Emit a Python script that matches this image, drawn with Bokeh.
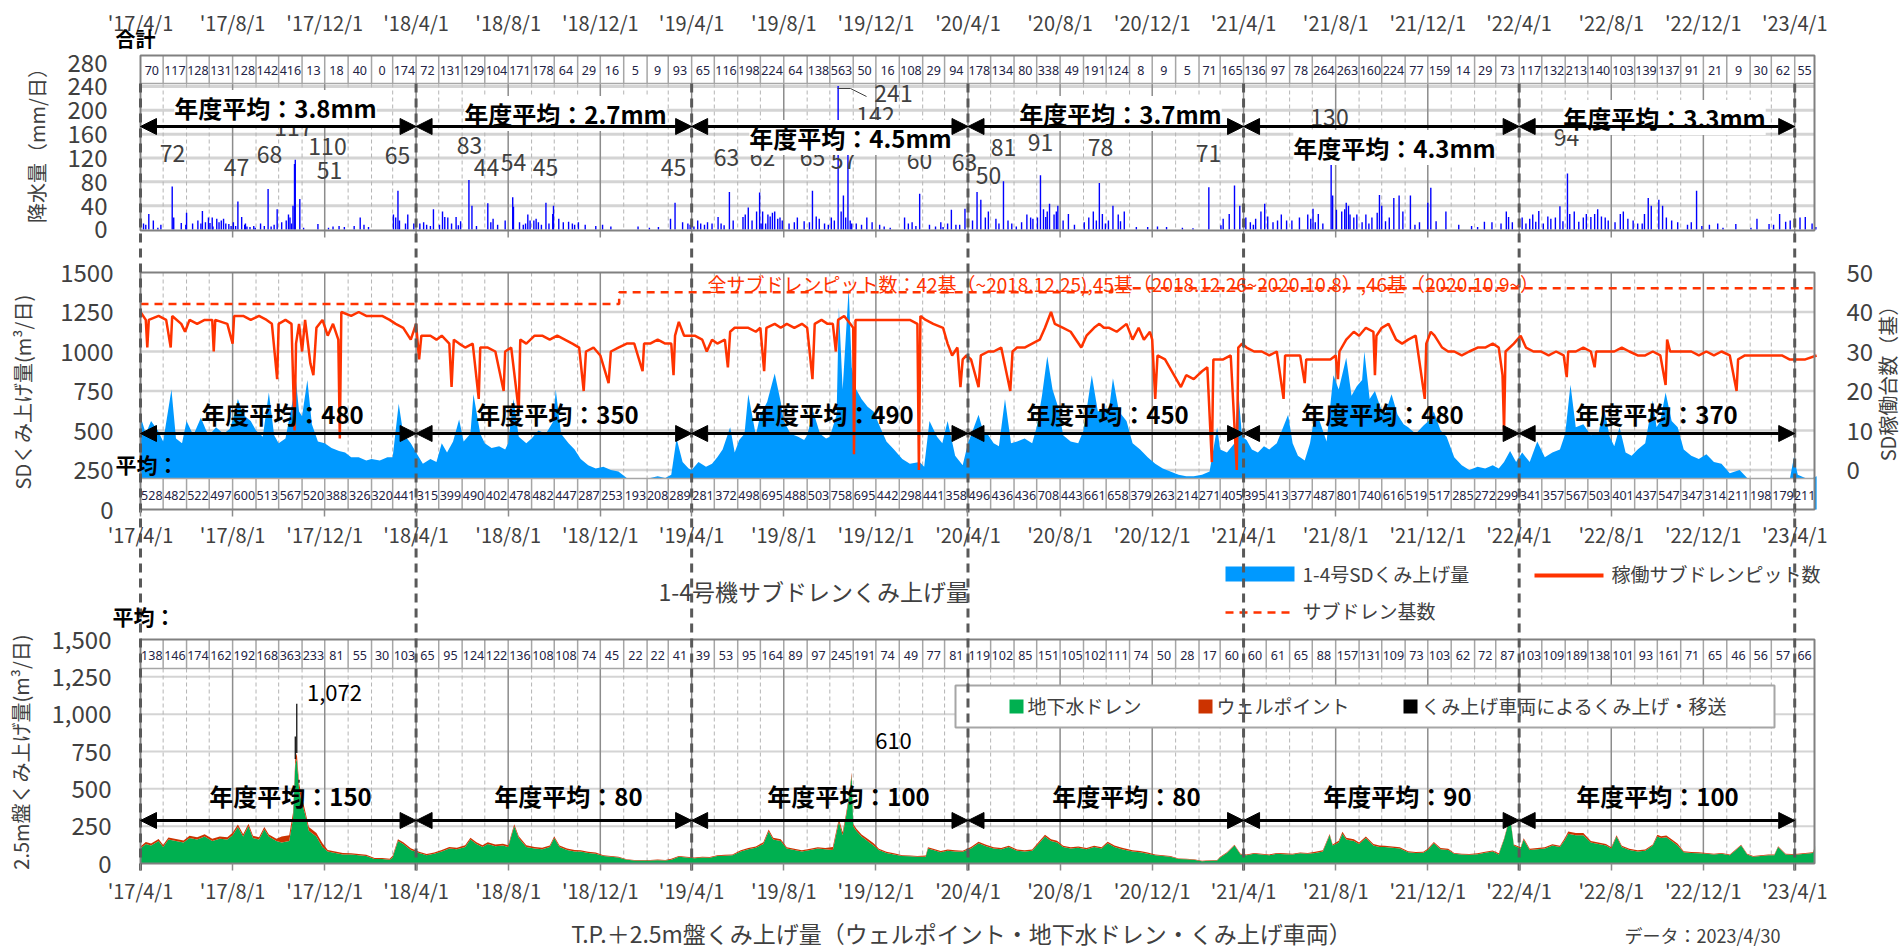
import math
import pandas as pd
from bokeh.plotting import figure
from bokeh.models import (Range1d, LinearAxis, FixedTicker, Arrow, NormalHead,
                          Label, NumeralTickFormatter)
from bokeh.embed import file_html
from bokeh.resources import INLINE
from bokeh.core.properties import value

# ======================= DATA =======================
x_tick_labels = ["'17/4/1", "'17/8/1", "'17/12/1", "'18/4/1", "'18/8/1", "'18/12/1",
                 "'19/4/1", "'19/8/1", "'19/12/1", "'20/4/1", "'20/8/1", "'20/12/1",
                 "'21/4/1", "'21/8/1", "'21/12/1", "'22/4/1", "'22/8/1", "'22/12/1", "'23/4/1"]

# monthly table rows (Apr 2017 ... Apr 2023)
rain_monthly_total = [70, 117, 128, 131, 128, 142, 416, 13, 18, 40, 0, 174,
                      72, 131, 129, 104, 171, 178, 64, 29, 16, 5, 9, 93,
                      65, 116, 198, 224, 64, 138, 563, 50, 16, 108, 29, 94,
                      178, 134, 80, 338, 49, 191, 124, 8, 9, 5, 71, 165,
                      136, 97, 78, 264, 263, 160, 224, 77, 159, 14, 29, 73,
                      117, 132, 213, 140, 103, 139, 137, 91, 21, 9, 30, 62,
                      55]
sd_monthly_avg = [528, 482, 522, 497, 600, 513, 567, 520, 388, 326, 320, 441,
                  315, 399, 490, 402, 478, 482, 447, 287, 253, 193, 208, 289,
                  281, 372, 498, 695, 488, 503, 758, 695, 442, 298, 441, 358,
                  496, 436, 436, 708, 443, 661, 658, 379, 263, 214, 271, 405,
                  395, 413, 377, 487, 801, 740, 616, 519, 517, 285, 272, 299,
                  341, 357, 567, 503, 401, 437, 547, 347, 314, 211, 198, 179,
                  211]
tp_monthly_avg = [138, 146, 174, 162, 192, 168, 363, 233, 81, 55, 30, 103,
                  65, 95, 124, 122, 136, 108, 108, 74, 45, 22, 22, 41,
                  39, 53, 95, 164, 89, 97, 245, 191, 74, 49, 77, 81,
                  119, 102, 85, 151, 105, 102, 111, 74, 50, 28, 17, 60,
                  60, 61, 65, 88, 157, 131, 109, 73, 103, 62, 72, 87,
                  103, 109, 189, 138, 101, 93, 161, 71, 65, 46, 56, 57,
                  66]

fy_rain_avg = ["3.8mm", "2.7mm", "4.5mm", "3.7mm", "4.3mm", "3.3mm"]
fy_sd_avg = ["480", "350", "490", "450", "480", "370"]
fy_tp_avg = ["150", "80", "100", "80", "90", "100"]

# daily rainfall (mm/day) on rainy days
rain_dates = [
 "2017-04-05","2017-04-08","2017-04-12","2017-04-18","2017-04-24","2017-04-28",
 "2017-05-13","2017-05-15","2017-05-25","2017-05-31",
 "2017-06-01","2017-06-09","2017-06-16","2017-06-20","2017-06-22","2017-06-26","2017-06-30",
 "2017-07-02","2017-07-05","2017-07-06","2017-07-11","2017-07-14","2017-07-17","2017-07-20","2017-07-23","2017-07-27","2017-07-30",
 "2017-08-02","2017-08-05","2017-08-08","2017-08-13","2017-08-17","2017-08-18","2017-08-20","2017-08-24","2017-08-29","2017-08-31",
 "2017-09-07","2017-09-12","2017-09-17","2017-09-21","2017-09-25","2017-09-29",
 "2017-10-05","2017-10-11","2017-10-14","2017-10-16","2017-10-18","2017-10-20","2017-10-22","2017-10-23","2017-10-29",
 "2017-11-03","2017-11-22",
 "2017-12-06","2017-12-12","2017-12-20","2017-12-27",
 "2018-01-09","2018-01-17","2018-01-22","2018-01-28",
 "2018-03-02","2018-03-05","2018-03-08","2018-03-10","2018-03-18","2018-03-21","2018-03-29",
 "2018-04-06","2018-04-11","2018-04-15","2018-04-20","2018-04-24",
 "2018-05-02","2018-05-06","2018-05-09","2018-05-13","2018-05-18","2018-05-24","2018-05-27","2018-05-30",
 "2018-06-10","2018-06-14","2018-06-20",
 "2018-07-05","2018-07-09","2018-07-12","2018-07-18","2018-07-28",
 "2018-08-07","2018-08-08","2018-08-16","2018-08-21","2018-08-24","2018-08-27","2018-08-30",
 "2018-09-04","2018-09-07","2018-09-10","2018-09-14","2018-09-20","2018-09-24","2018-09-29","2018-09-30",
 "2018-10-07","2018-10-13","2018-10-20","2018-10-25","2018-10-28",
 "2018-11-02","2018-11-11","2018-11-25",
 "2018-12-04","2018-12-15",
 "2019-01-20",
 "2019-02-04","2019-02-16",
 "2019-03-04","2019-03-10","2019-03-20","2019-03-27","2019-03-30",
 "2019-04-04","2019-04-09","2019-04-13","2019-04-18","2019-04-22","2019-04-28",
 "2019-05-06","2019-05-10","2019-05-14","2019-05-21","2019-05-26",
 "2019-06-08","2019-06-11","2019-06-15","2019-06-20","2019-06-26","2019-06-30",
 "2019-07-02","2019-07-04","2019-07-08","2019-07-11","2019-07-14","2019-07-17","2019-07-20","2019-07-24","2019-07-27","2019-07-30",
 "2019-08-08","2019-08-15","2019-08-19","2019-08-28",
 "2019-09-04","2019-09-08","2019-09-13","2019-09-17","2019-09-24","2019-09-29",
 "2019-10-03","2019-10-07","2019-10-12","2019-10-16","2019-10-19","2019-10-22","2019-10-25","2019-10-28","2019-10-30",
 "2019-11-05","2019-11-12","2019-11-19","2019-11-26",
 "2019-12-06","2019-12-12","2019-12-20",
 "2020-01-08","2020-01-13","2020-01-18","2020-01-23","2020-01-28",
 "2020-02-10","2020-02-18","2020-02-25","2020-02-28",
 "2020-03-05","2020-03-10","2020-03-16","2020-03-21","2020-03-28",
 "2020-04-07","2020-04-13","2020-04-18","2020-04-24","2020-04-28",
 "2020-05-08","2020-05-12","2020-05-18","2020-05-24","2020-05-29",
 "2020-06-04","2020-06-11","2020-06-18","2020-06-23","2020-06-26",
 "2020-07-02","2020-07-06","2020-07-10","2020-07-13","2020-07-15","2020-07-18","2020-07-24","2020-07-27","2020-07-29",
 "2020-08-05","2020-08-12","2020-08-20",
 "2020-09-02","2020-09-08","2020-09-14","2020-09-18","2020-09-22","2020-09-26","2020-09-30",
 "2020-10-04","2020-10-10","2020-10-17","2020-10-20","2020-10-25",
 "2020-11-10","2020-11-25",
 "2020-12-08","2020-12-20",
 "2021-01-10","2021-01-24",
 "2021-02-14",
 "2021-03-02","2021-03-05","2021-03-13","2021-03-20","2021-03-27",
 "2021-04-04","2021-04-10","2021-04-14","2021-04-17","2021-04-24","2021-04-29",
 "2021-05-03","2021-05-10","2021-05-16","2021-05-21","2021-05-28",
 "2021-06-04","2021-06-14","2021-06-25","2021-06-29",
 "2021-07-02","2021-07-05","2021-07-09","2021-07-15","2021-07-26","2021-07-28",
 "2021-08-02","2021-08-09","2021-08-13","2021-08-15","2021-08-18","2021-08-20","2021-08-25","2021-08-29",
 "2021-09-05","2021-09-10","2021-09-14","2021-09-18","2021-09-25","2021-09-28",
 "2021-10-01","2021-10-06","2021-10-11","2021-10-17","2021-10-24","2021-10-29",
 "2021-11-08","2021-11-14","2021-11-20",
 "2021-12-01","2021-12-05","2021-12-12","2021-12-25",
 "2022-01-11","2022-01-28",
 "2022-02-05","2022-02-14","2022-02-24",
 "2022-03-08","2022-03-15","2022-03-18","2022-03-23",
 "2022-04-05","2022-04-10","2022-04-15","2022-04-19","2022-04-23","2022-04-27",
 "2022-05-03","2022-05-09","2022-05-13","2022-05-19","2022-05-25","2022-05-29",
 "2022-06-04","2022-06-07","2022-06-13","2022-06-19","2022-06-25","2022-06-29",
 "2022-07-05","2022-07-10","2022-07-14","2022-07-19","2022-07-24","2022-07-28",
 "2022-08-06","2022-08-13","2022-08-17","2022-08-23","2022-08-30",
 "2022-09-05","2022-09-11","2022-09-14","2022-09-19","2022-09-23",
 "2022-10-03","2022-10-08","2022-10-13","2022-10-20","2022-10-28",
 "2022-11-10","2022-11-15","2022-11-22","2022-11-29",
 "2022-12-09","2022-12-20","2022-12-27",
 "2023-01-13",
 "2023-02-02","2023-02-10","2023-02-26",
 "2023-03-04","2023-03-12","2023-03-20","2023-03-26",
 "2023-04-08","2023-04-15","2023-04-24","2023-04-29",
]
rain_mm = [
 10, 8, 26, 15, 3, 8,
 72, 20, 11, 8,
 28, 10, 15, 10, 31, 12, 20,
 11, 20, 5, 18, 12, 15, 18, 10, 9, 6,
 12, 6, 47, 21, 8, 10, 5, 4, 6, 3,
 10, 6, 68, 5, 8, 34,
 12, 15, 25, 20, 10, 40, 110, 117, 51,
 3, 9,
 3, 5, 6, 4,
 6, 20, 8, 4,
 25, 20, 65, 15, 10, 25, 10,
 10, 12, 8, 6, 34,
 8, 30, 21, 20, 10, 21, 7, 14,
 83, 40, 6,
 44, 12, 18, 8, 15,
 54, 38, 12, 8, 10, 25, 15,
 15, 18, 12, 8, 45, 10, 26, 40,
 18, 12, 13, 10, 8,
 12, 8, 6,
 8, 5,
 5,
 3, 4,
 18, 45, 12, 10, 8,
 5, 15, 10, 8, 12, 10,
 21, 10, 7, 63, 15,
 21, 25, 37, 15, 30, 62,
 10, 30, 10, 25, 22, 28, 30, 18, 20, 15,
 10, 12, 20, 14,
 12, 65, 22, 18, 10, 8,
 20, 15, 241, 30, 57, 20, 142, 15, 10,
 10, 8, 20, 12,
 8, 5, 3,
 20, 10, 12, 6, 60,
 8, 5, 12, 4,
 10, 33, 8, 8, 35,
 15, 63, 50, 20, 30,
 18, 10, 81, 15, 10,
 5, 12, 25, 20, 18,
 20, 91, 34, 21, 30, 43, 25, 30, 40,
 15, 26, 8,
 12, 20, 30, 15, 78, 26, 10,
 15, 40, 25, 14, 30,
 4, 4,
 5, 4,
 3, 2,
 71,
 7, 18, 26, 74, 40,
 20, 12, 8, 18, 30, 43,
 22, 12, 15, 25, 15,
 15, 20, 25, 18,
 35, 12, 26, 10, 130, 57,
 33, 30, 34, 45, 40, 25, 20, 25,
 12, 25, 10, 20, 28, 58,
 40, 14, 20, 53, 57, 30,
 57, 8, 12,
 45, 70, 14, 30,
 8, 6,
 4, 13, 12,
 10, 30, 21, 12,
 20, 10, 18, 25, 13, 31,
 10, 22, 18, 20, 39, 14,
 94, 26, 30, 13, 20, 26,
 21, 26, 34, 22, 20, 15,
 12, 26, 30, 18, 15,
 10, 10, 26, 53, 40,
 50, 40, 20, 15, 12,
 8, 12, 65, 6,
 8, 10, 3,
 9,
 3, 18, 9,
 8, 26, 13, 15,
 20, 21, 10, 4,
]
# daily-maximum annotations of the rainfall panel
rain_peak_labels = ["72", "47", "68", "117", "110", "51", "65", "83", "44", "54", "45", "45",
                    "63", "62", "65", "57", "241", "142", "60", "63", "50", "81", "91", "78",
                    "71", "130", "94"]

# 1-4号 SD daily pumping (m3/day)
sd_dates = [
 "2017-04-01","2017-04-08","2017-04-15","2017-04-24","2017-05-01","2017-05-12","2017-05-18","2017-05-26",
 "2017-06-01","2017-06-10","2017-06-20","2017-06-27","2017-07-01","2017-07-10","2017-07-20","2017-07-28",
 "2017-08-01","2017-08-08","2017-08-15","2017-08-25","2017-09-01","2017-09-10","2017-09-18","2017-09-25",
 "2017-10-01","2017-10-10","2017-10-20","2017-10-23","2017-10-28","2017-11-01","2017-11-08","2017-11-14","2017-11-22",
 "2017-12-01","2017-12-10","2017-12-20","2017-12-28","2018-01-05","2018-01-15","2018-01-25",
 "2018-02-01","2018-02-12","2018-02-22","2018-03-01","2018-03-09","2018-03-15","2018-03-25",
 "2018-04-01","2018-04-10","2018-04-20","2018-04-28","2018-05-05","2018-05-12","2018-05-20","2018-05-28",
 "2018-06-03","2018-06-12","2018-06-16","2018-06-25","2018-07-01","2018-07-10","2018-07-20","2018-07-28",
 "2018-08-01","2018-08-08","2018-08-15","2018-08-25","2018-09-01","2018-09-10","2018-09-20","2018-09-30",
 "2018-10-03","2018-10-10","2018-10-20","2018-10-28","2018-11-05","2018-11-15","2018-11-25",
 "2018-12-05","2018-12-15","2018-12-25","2019-01-05","2019-01-15","2019-01-25",
 "2019-02-05","2019-02-15","2019-02-25","2019-03-05","2019-03-12","2019-03-20","2019-03-28",
 "2019-04-01","2019-04-10","2019-04-20","2019-04-28","2019-05-05","2019-05-12","2019-05-22","2019-05-28",
 "2019-06-03","2019-06-10","2019-06-15","2019-06-25","2019-07-01","2019-07-10","2019-07-20","2019-07-28",
 "2019-08-01","2019-08-10","2019-08-20","2019-08-28","2019-09-01","2019-09-09","2019-09-18","2019-09-26",
 "2019-10-01","2019-10-10","2019-10-13","2019-10-18","2019-10-26","2019-10-30",
 "2019-11-05","2019-11-12","2019-11-20","2019-11-28","2019-12-05","2019-12-15","2019-12-25",
 "2020-01-05","2020-01-15","2020-01-28","2020-02-03","2020-02-10","2020-02-20","2020-02-27",
 "2020-03-05","2020-03-15","2020-03-25",
 "2020-04-01","2020-04-15","2020-04-22","2020-04-28","2020-05-05","2020-05-12","2020-05-20","2020-05-28",
 "2020-06-05","2020-06-15","2020-06-25","2020-07-01","2020-07-08","2020-07-15","2020-07-22","2020-07-30",
 "2020-08-05","2020-08-15","2020-08-25","2020-09-01","2020-09-12","2020-09-20","2020-09-28",
 "2020-10-05","2020-10-10","2020-10-18","2020-10-28","2020-11-05","2020-11-15","2020-11-25",
 "2020-12-05","2020-12-15","2020-12-25","2021-01-05","2021-01-15","2021-01-25",
 "2021-02-05","2021-02-15","2021-02-25","2021-03-01","2021-03-10","2021-03-20","2021-03-25","2021-03-30",
 "2021-04-05","2021-04-12","2021-04-20","2021-04-28","2021-05-05","2021-05-15","2021-05-30",
 "2021-06-05","2021-06-12","2021-06-21","2021-06-28","2021-07-03","2021-07-10","2021-07-20","2021-07-29",
 "2021-08-05","2021-08-15","2021-08-22","2021-08-29","2021-09-05","2021-09-08","2021-09-15","2021-09-22","2021-09-29",
 "2021-10-05","2021-10-14","2021-10-22","2021-10-30","2021-11-05","2021-11-15","2021-11-25",
 "2021-12-02","2021-12-09","2021-12-18","2021-12-26","2022-01-05","2022-01-15","2022-01-25",
 "2022-02-05","2022-02-15","2022-02-25","2022-03-05","2022-03-12","2022-03-20","2022-03-28",
 "2022-04-05","2022-04-15","2022-04-25","2022-05-05","2022-05-15","2022-05-25",
 "2022-06-01","2022-06-08","2022-06-15","2022-06-25","2022-07-05","2022-07-15","2022-07-22","2022-07-30",
 "2022-08-05","2022-08-12","2022-08-20","2022-08-28","2022-09-05","2022-09-15","2022-09-25","2022-09-30",
 "2022-10-05","2022-10-12","2022-10-20","2022-10-28","2022-11-05","2022-11-15","2022-11-25",
 "2022-12-05","2022-12-15","2022-12-25","2023-01-05","2023-01-18","2023-01-28",
 "2023-02-05","2023-02-15","2023-02-25","2023-03-05","2023-03-15","2023-03-25","2023-03-31",
 "2023-04-05","2023-04-15","2023-04-25","2023-04-30",
]
sd_m3 = [
 590, 480, 560, 500, 430, 760, 450, 420,
 560, 470, 580, 500, 470, 520, 480, 510,
 560, 700, 600, 560, 500, 460, 740, 470,
 420, 450, 700, 860, 620, 590, 820, 540, 430,
 420, 390, 370, 360, 330, 330, 310,
 320, 310, 330, 330, 670, 480, 420,
 360, 290, 320, 300, 420, 360, 430, 570,
 430, 480, 730, 480, 420, 390, 400, 380,
 420, 700, 460, 420, 450, 500, 480, 560,
 760, 480, 420, 380, 320, 280, 260,
 270, 250, 240, 200, 190, 190,
 200, 210, 200, 220, 450, 300, 260,
 250, 300, 270, 290, 330, 380, 520, 360,
 440, 480, 730, 470, 600, 680, 860, 680,
 560, 480, 460, 440, 470, 620, 480, 450,
 460, 600, 1280, 760, 1400, 900,
 760, 700, 650, 620, 540, 430, 380,
 320, 290, 300, 270, 560, 460, 420,
 560, 340, 280,
 420, 600, 480, 470, 420, 400, 700, 420,
 430, 450, 420, 520, 720, 970, 760, 640,
 470, 430, 420, 500, 850, 620, 640,
 640, 830, 620, 560, 420, 380, 330,
 290, 260, 240, 220, 210, 210,
 220, 240, 520, 380, 360, 420, 750, 460,
 440, 380, 360, 400, 380, 420, 600,
 420, 340, 310, 420, 560, 570, 430, 850,
 760, 960, 720, 780, 820, 1000, 700, 750, 650,
 600, 730, 600, 540, 520, 480, 530,
 560, 620, 500, 460, 330, 280, 250,
 270, 260, 280, 260, 300, 370, 300,
 360, 300, 430, 330, 360, 380,
 480, 790, 520, 540, 470, 480, 650, 460,
 400, 520, 360, 340, 380, 420, 690, 520,
 560, 740, 560, 520, 380, 340, 320,
 350, 300, 290, 230, 250, 200,
 200, 195, 200, 180, 175, 180, 330,
 220, 200, 200, 210,
]

# operating sub-drain pits (count)
pit_dates = [
 "2017-04-01","2017-04-08","2017-04-10","2017-04-12","2017-04-25","2017-05-05","2017-05-11","2017-05-13","2017-05-25","2017-05-30",
 "2017-06-05","2017-06-15","2017-06-25","2017-07-05","2017-07-07","2017-07-09","2017-07-25","2017-08-01","2017-08-03","2017-08-15","2017-08-25",
 "2017-09-05","2017-09-15","2017-09-22","2017-09-29","2017-10-01","2017-10-10","2017-10-18","2017-10-22","2017-10-24","2017-10-28",
 "2017-11-01","2017-11-05","2017-11-12","2017-11-16","2017-11-20","2017-11-28","2017-12-05","2017-12-12","2017-12-19","2017-12-21","2017-12-23",
 "2018-01-05","2018-01-15","2018-01-25","2018-02-05","2018-02-15","2018-02-25","2018-03-05","2018-03-15","2018-03-25",
 "2018-04-01","2018-04-05","2018-04-08","2018-04-20","2018-04-28","2018-05-05","2018-05-15","2018-05-18","2018-05-21","2018-05-28",
 "2018-06-05","2018-06-15","2018-06-23","2018-06-25","2018-07-05","2018-07-15","2018-07-26","2018-07-28",
 "2018-08-05","2018-08-15","2018-08-17","2018-08-25","2018-09-05","2018-09-15","2018-09-25","2018-10-05","2018-10-15","2018-10-25",
 "2018-11-03","2018-11-09","2018-11-12","2018-11-22","2018-12-01","2018-12-12","2018-12-15","2018-12-25",
 "2019-01-05","2019-01-15","2019-01-26","2019-01-28","2019-02-05","2019-02-15","2019-02-25",
 "2019-03-05","2019-03-08","2019-03-10","2019-03-15","2019-03-22","2019-03-28",
 "2019-04-05","2019-04-15","2019-04-21","2019-04-28","2019-05-05","2019-05-15","2019-05-19","2019-05-22","2019-05-28",
 "2019-06-05","2019-06-15","2019-06-25","2019-07-01","2019-07-06","2019-07-09","2019-07-20","2019-07-28",
 "2019-08-05","2019-08-15","2019-08-25","2019-09-01","2019-09-08","2019-09-11","2019-09-20","2019-09-28",
 "2019-10-05","2019-10-09","2019-10-12","2019-10-20","2019-10-28","2019-11-01","2019-11-02","2019-11-04","2019-11-15","2019-11-25",
 "2019-12-05","2019-12-15","2019-12-25","2020-01-05","2020-01-15","2020-01-25","2020-01-27","2020-01-29",
 "2020-02-05","2020-02-15","2020-02-28","2020-03-05","2020-03-11","2020-03-18","2020-03-22","2020-03-25","2020-03-30",
 "2020-04-05","2020-04-15","2020-04-18","2020-04-28","2020-05-05","2020-05-15","2020-05-27","2020-05-30",
 "2020-06-05","2020-06-15","2020-06-25","2020-07-05","2020-07-12","2020-07-20","2020-07-25",
 "2020-08-05","2020-08-15","2020-08-29","2020-09-05","2020-09-15","2020-09-22","2020-09-28",
 "2020-10-05","2020-10-15","2020-10-28","2020-11-05","2020-11-13","2020-11-20","2020-11-28",
 "2020-12-01","2020-12-05","2020-12-08","2020-12-18","2021-01-08","2021-01-15","2021-01-25",
 "2021-02-05","2021-02-12","2021-02-18","2021-02-20","2021-02-28","2021-03-05","2021-03-15","2021-03-23","2021-03-25","2021-03-30",
 "2021-04-05","2021-04-15","2021-04-25","2021-05-05","2021-05-15","2021-05-24","2021-05-26",
 "2021-06-05","2021-06-15","2021-06-21","2021-06-23","2021-07-05","2021-07-15","2021-07-25",
 "2021-08-01","2021-08-04","2021-08-06","2021-08-15","2021-08-25","2021-09-01","2021-09-10","2021-09-20","2021-09-22","2021-09-24",
 "2021-10-01","2021-10-10","2021-10-20","2021-10-28","2021-11-05","2021-11-15","2021-11-27","2021-11-29",
 "2021-12-05","2021-12-10","2021-12-20","2021-12-28","2022-01-05","2022-01-15","2022-01-25",
 "2022-02-05","2022-02-15","2022-02-25","2022-03-05","2022-03-10","2022-03-12","2022-03-14","2022-03-25",
 "2022-04-03","2022-04-10","2022-04-20","2022-04-30","2022-05-10","2022-05-20","2022-05-30",
 "2022-06-03","2022-06-05","2022-06-15","2022-06-25","2022-07-05","2022-07-10","2022-07-12","2022-07-25",
 "2022-08-05","2022-08-15","2022-08-25","2022-09-05","2022-09-15","2022-09-25",
 "2022-10-05","2022-10-12","2022-10-14","2022-10-18","2022-10-28","2022-11-05","2022-11-15","2022-11-25",
 "2022-12-05","2022-12-15","2022-12-25","2023-01-05","2023-01-14","2023-01-16","2023-01-25",
 "2023-02-05","2023-02-15","2023-02-25","2023-03-05","2023-03-15","2023-03-25","2023-04-05","2023-04-15","2023-04-30",
]
pit_count = [
 40, 38, 31, 38, 39, 38, 31, 39, 37, 35,
 38, 37, 38, 38, 30, 38, 37, 32, 39, 39, 38,
 39, 38, 37, 23, 37, 38, 37, 10, 32, 37,
 30, 38, 27, 24, 36, 38, 34, 37, 33, 8, 40,
 39, 40, 39, 39, 39, 38, 37, 36, 33,
 37, 28, 34, 34, 33, 34, 32, 21, 33, 32,
 31, 32, 18, 31, 31, 30, 20, 30,
 31, 15, 33, 32, 34, 34, 33, 34, 33, 32,
 31, 20, 30, 31, 29, 22, 30, 31,
 32, 32, 25, 32, 32, 33, 32,
 32, 24, 34, 37.5, 34, 34,
 34, 33, 30, 33, 32, 33, 26, 35, 36,
 36, 36, 35, 36, 25, 36, 37, 36,
 37, 36, 37, 36, 23, 37, 38, 37,
 37, 30, 38, 39, 37, 36, 4, 38, 38, 38,
 38, 38, 38, 38, 38, 37, 0, 39,
 38, 37, 36, 32, 29, 31, 21, 28, 29,
 28, 21, 29, 30, 30, 31, 20, 30,
 31, 31, 32, 33, 36, 40, 37,
 36, 35, 31, 34, 36, 37, 36,
 36, 35, 37, 33, 36, 33, 35,
 33, 18, 29, 28, 21, 24, 23,
 25, 26, 2, 28, 28, 28, 29, 0, 31, 32,
 31, 30, 30, 29, 30, 18, 29,
 29, 29, 22, 28, 28, 28, 28,
 29, 23, 30, 33, 35, 34, 36, 35, 24, 34,
 36, 37, 33, 32, 33, 34, 18, 32,
 35, 34, 31, 30, 30, 29, 30,
 31, 31, 32, 31, 24, 10, 30, 32,
 34, 31, 30, 30, 29, 30, 29,
 23.5, 30, 30, 31, 30, 26, 30, 30,
 30, 31, 30, 29, 29, 30,
 29, 21.5, 33, 30, 30, 30, 30, 29,
 30, 29, 30, 29, 20, 28, 29,
 29, 29, 29, 29, 29, 28, 28, 28, 29,
]

# sub-drain pits installed
subdrain_dates = ["2017-04-01", "2018-12-26", "2020-10-09"]
subdrain_count = [42, 45, 46]

# T.P.+2.5m pumping: groundwater drain (m3/day)
tp_dates = [
 "2017-04-01","2017-04-08","2017-04-15","2017-04-25","2017-05-01","2017-05-08","2017-05-18","2017-05-28",
 "2017-06-05","2017-06-15","2017-06-25","2017-07-05","2017-07-15","2017-07-25",
 "2017-08-01","2017-08-08","2017-08-15","2017-08-22","2017-08-28","2017-09-05","2017-09-12","2017-09-18","2017-09-28",
 "2017-10-05","2017-10-15","2017-10-20","2017-10-23","2017-10-25","2017-10-28","2017-10-31",
 "2017-11-05","2017-11-10","2017-11-20","2017-11-28","2017-12-05","2017-12-15","2017-12-25",
 "2018-01-05","2018-01-15","2018-01-25","2018-02-05","2018-02-15","2018-02-25",
 "2018-03-01","2018-03-08","2018-03-15","2018-03-25",
 "2018-04-05","2018-04-15","2018-04-25","2018-05-05","2018-05-15","2018-05-25",
 "2018-06-05","2018-06-12","2018-06-20","2018-06-28","2018-07-05","2018-07-15","2018-07-25",
 "2018-08-01","2018-08-09","2018-08-15","2018-08-25","2018-09-05","2018-09-15","2018-09-25",
 "2018-10-01","2018-10-08","2018-10-18","2018-10-28","2018-11-05","2018-11-15","2018-11-25",
 "2018-12-05","2018-12-15","2018-12-25","2019-01-05","2019-01-15","2019-01-25",
 "2019-02-05","2019-02-15","2019-02-25","2019-03-05","2019-03-15","2019-03-25",
 "2019-04-05","2019-04-15","2019-04-25","2019-05-05","2019-05-15","2019-05-25",
 "2019-06-05","2019-06-15","2019-06-25","2019-07-05","2019-07-12","2019-07-18","2019-07-28",
 "2019-08-05","2019-08-15","2019-08-25","2019-09-05","2019-09-15","2019-09-25",
 "2019-10-05","2019-10-13","2019-10-18","2019-10-22","2019-10-26","2019-10-30","2019-11-01",
 "2019-11-05","2019-11-12","2019-11-20","2019-11-28","2019-12-05","2019-12-15","2019-12-25",
 "2020-01-05","2020-01-15","2020-01-25","2020-02-05","2020-02-08","2020-02-15","2020-02-25",
 "2020-03-05","2020-03-15","2020-03-25",
 "2020-04-05","2020-04-15","2020-04-25","2020-05-05","2020-05-15","2020-05-25",
 "2020-06-05","2020-06-15","2020-06-25","2020-07-05","2020-07-12","2020-07-20","2020-07-28",
 "2020-08-05","2020-08-15","2020-08-25","2020-09-05","2020-09-15","2020-09-25",
 "2020-10-03","2020-10-12","2020-10-22","2020-11-05","2020-11-15","2020-11-25",
 "2020-12-05","2020-12-15","2020-12-25","2021-01-05","2021-01-15","2021-01-25",
 "2021-02-05","2021-02-15","2021-02-25","2021-03-01","2021-03-10","2021-03-20","2021-03-28",
 "2021-04-05","2021-04-15","2021-04-25","2021-05-05","2021-05-15","2021-05-25",
 "2021-06-05","2021-06-15","2021-06-25","2021-07-05","2021-07-15","2021-07-24","2021-07-28",
 "2021-08-05","2021-08-10","2021-08-15","2021-08-25","2021-09-01","2021-09-10","2021-09-20","2021-09-28",
 "2021-10-05","2021-10-15","2021-10-25","2021-11-05","2021-11-15","2021-11-25",
 "2021-12-01","2021-12-09","2021-12-18","2021-12-28","2022-01-05","2022-01-15","2022-01-25",
 "2022-02-05","2022-02-15","2022-02-25","2022-03-05","2022-03-12","2022-03-20","2022-03-25",
 "2022-04-03","2022-04-07","2022-04-15","2022-04-25","2022-05-05","2022-05-15","2022-05-25",
 "2022-06-01","2022-06-05","2022-06-15","2022-06-25","2022-07-05","2022-07-15","2022-07-25",
 "2022-08-01","2022-08-08","2022-08-15","2022-08-25","2022-09-05","2022-09-15","2022-09-25",
 "2022-10-01","2022-10-06","2022-10-13","2022-10-20","2022-10-28","2022-11-05","2022-11-15","2022-11-25",
 "2022-12-05","2022-12-15","2022-12-25","2023-01-05","2023-01-20","2023-01-28",
 "2023-02-05","2023-02-15","2023-02-25","2023-03-05","2023-03-10","2023-03-20","2023-03-28",
 "2023-04-05","2023-04-15","2023-04-25","2023-04-28",
]
tp_drain = [
 100, 130, 120, 150, 110, 160, 150, 140,
 170, 160, 180, 150, 165, 160,
 190, 245, 180, 250, 170, 160, 230, 180, 150,
 140, 150, 300, 660, 700, 500, 420,
 330, 220, 180, 110, 80, 70, 60,
 60, 55, 50, 30, 30, 25,
 40, 150, 130, 90,
 70, 55, 65, 80, 100, 95,
 110, 160, 130, 110, 130, 115, 120,
 110, 250, 170, 110, 100, 95, 110,
 170, 110, 90, 80, 80, 70, 65,
 50, 45, 40, 25, 20, 20,
 20, 22, 20, 25, 45, 40,
 35, 40, 38, 50, 52, 55,
 80, 95, 105, 130, 215, 160, 150,
 100, 90, 80, 90, 100, 95,
 90, 280, 190, 300, 420, 590, 250,
 220, 180, 150, 120, 90, 70, 60,
 50, 48, 45, 45, 100, 90, 75,
 85, 80, 78,
 100, 135, 115, 100, 95, 110,
 85, 80, 85, 140, 180, 150, 140,
 110, 100, 105, 95, 110, 100,
 135, 110, 95, 80, 75, 65,
 55, 50, 45, 30, 28, 25,
 15, 18, 20, 40, 70, 120, 60,
 55, 65, 60, 55, 65, 62,
 60, 68, 65, 70, 80, 190, 120,
 140, 200, 160, 150, 130, 170, 120, 110,
 110, 105, 100, 75, 70, 72,
 90, 135, 95, 90, 65, 60, 58,
 62, 72, 80, 60, 160, 310, 120,
 100, 160, 90, 95, 100, 120, 110,
 160, 200, 190, 190, 140, 130, 120,
 100, 180, 110, 90, 80, 85, 120,
 180, 170, 175, 150, 120, 75, 70, 68,
 65, 60, 65, 55, 120, 60,
 45, 50, 55, 55, 110, 60, 58,
 60, 65, 70, 110,
]
# T.P.+2.5m pumping: well point, monthly level (m3/day)
tp_wellpoint_monthly = [14, 14, 16, 15, 16, 15, 40, 25, 10, 8, 6, 12,
                        8, 10, 12, 12, 12, 10, 10, 8, 6, 4, 4, 6,
                        5, 6, 9, 12, 8, 9, 20, 15, 8, 6, 8, 8,
                        10, 9, 8, 12, 9, 9, 10, 8, 6, 4, 3, 6,
                        6, 6, 6, 8, 12, 10, 9, 7, 9, 6, 7, 8,
                        9, 9, 14, 11, 9, 8, 12, 7, 6, 5, 6, 6,
                        6]
# pumping by tank trucks (m3/day)
truck_dates = ["2017-10-23", "2017-10-25", "2017-10-28"]
truck_m3 = [150, 330, 20]
tp_peak_labels = ["1,072", "610"]

# ======================= LAYOUT =======================
FONT = "Noto Sans CJK JP"
TXT = "#404040"
ORIGIN = pd.Timestamp("2017-04-01")
W, H = 1900, 946          # canvas covers the window (page coordinates = canvas pixels)
X_END = 2217.2            # right edge of the plot boxes (days since 2017-04-01)
PXD = 1674.0 / X_END      # pixels per day (boxes span x 140..1814)
K1 = 175.0 / 293.7        # rain: px per mm   (box 55..230)
K2 = 237.0 / 1500.0       # SD:   px per m3   (box 272..509)
K3 = 224.0 / 1500.0       # 2.5m: px per m3   (box 639..863)


def to_days(dates):
    return [(pd.Timestamp(d) - ORIGIN).days for d in dates]


def dx(px):
    return (px - 140.0) / PXD


def rain_v(py):
    return (230.0 - py) / K1 - 1.7


def sd_v(py):
    return (509.0 - py) / K2


def pit_v(py):
    return (sd_v(py) - 250.0) / 25.0


def tp_v(py):
    return (863.0 - py) / K3


tick_days = to_days(pd.date_range("2017-04-01", "2023-04-01", freq="4MS"))
month_days = to_days(pd.date_range("2017-04-01", "2023-05-01", freq="MS"))
minor_days = [d for d in month_days if d not in tick_days and 0 < d < X_END]
inner_ticks = [d for d in tick_days if 0 < d < X_END]
fy_days = to_days([f"{y}-04-01" for y in range(2017, 2024)])

# annotation positions (pixels)
rain_peak_pos = [(172, 153), (236, 167), (269, 154), (293, 127), (327, 146), (329, 170), (397, 155),
                 (469, 145), (486, 167), (513, 162), (545, 167), (673, 167), (726, 157), (762, 157),
                 (812, 157), (843, 160), (893, 93), (875, 115), (919, 160), (964, 162), (988, 175),
                 (1003, 147), (1040, 142), (1100, 147), (1208, 153), (1329, 117), (1566, 137)]
fy_lab_top = [(275, 107), (565, 113), (850, 137), (1120, 113), (1394, 147), (1664, 117)]
fy_lab_mid = [282, 557, 832, 1107, 1382, 1656]
fy_lab_bot = [290, 568, 848, 1126, 1397, 1657]

p = figure(width=W, height=H, x_range=Range1d(dx(0), dx(W)), y_range=Range1d(H, 0),
           x_axis_location=None, y_axis_location=None, output_backend="svg",
           toolbar_location=None, min_border_left=0, min_border_right=0,
           min_border_top=0, min_border_bottom=0)
p.outline_line_color = None
p.background_fill_color = "white"
p.border_fill_color = "white"
p.xgrid.visible = False
p.ygrid.visible = False
p.extra_y_ranges = {
    "rain": Range1d(rain_v(H), rain_v(0)),
    "sd": Range1d(sd_v(H), sd_v(0)),
    "pits": Range1d(pit_v(H), pit_v(0)),
    "tp": Range1d(tp_v(H), tp_v(0)),
}


# ---------- axes (drawn at fixed locations) ----------
def x_axis(loc, side, tick_out, standoff):
    ax = LinearAxis(fixed_location=loc, ticker=FixedTicker(ticks=tick_days))
    ax.major_label_overrides = dict(zip(tick_days, x_tick_labels))
    ax.axis_line_color = None
    ax.minor_tick_line_color = None
    ax.major_tick_line_color = "#8c8c8c" if tick_out else None
    ax.major_tick_line_width = 1.5
    ax.major_tick_in = 0
    ax.major_tick_out = tick_out
    ax.major_label_standoff = standoff
    ax.major_label_text_font = FONT
    ax.major_label_text_font_size = "20px"
    ax.major_label_text_color = TXT
    p.add_layout(ax, side)


def y_axis(rng, ticks, side, loc, standoff, fmt=None):
    ax = LinearAxis(y_range_name=rng, fixed_location=loc, ticker=FixedTicker(ticks=ticks))
    if fmt:
        ax.formatter = fmt
    ax.axis_line_color = None
    ax.major_tick_line_color = None
    ax.minor_tick_line_color = None
    ax.major_tick_in = 0
    ax.major_tick_out = 0
    ax.major_label_standoff = standoff
    ax.major_label_text_font = FONT
    ax.major_label_text_font_size = "24px"
    ax.major_label_text_color = TXT
    p.add_layout(ax, side)


x_axis(55, "above", 0, 19)
x_axis(509, "below", 7, 3)
x_axis(863, "below", 7, 5)
y_axis("rain", list(range(0, 281, 40)), "left", 0, 33)
y_axis("sd", list(range(0, 1501, 250)), "left", 0, 27)
y_axis("pits", list(range(0, 51, 10)), "right", X_END, 32)
y_axis("tp", list(range(0, 1501, 250)), "left", 0, 29, NumeralTickFormatter(format="0,0"))


# ---------- grids ----------
def vgrid(y0, y1, y_major_end):
    p.segment(x0=minor_days, y0=[y0] * len(minor_days), x1=minor_days, y1=[y1] * len(minor_days),
              line_color="#b4b4b4", line_width=1, line_dash="4 3")
    p.segment(x0=inner_ticks, y0=[y0] * len(inner_ticks), x1=inner_ticks, y1=[y_major_end] * len(inner_ticks),
              line_color="#8c8c8c", line_width=1.5)


def hgrid(rng, vals, width):
    p.segment(x0=[0] * len(vals), y0=vals, x1=[X_END] * len(vals), y1=vals, y_range_name=rng,
              line_color="#d4d4d4", line_width=width)


hgrid("rain", list(range(40, 241, 40)), 3)
hgrid("sd", list(range(250, 1251, 250)), 2.5)
hgrid("tp", list(range(250, 1251, 250)), 2)
vgrid(83, 230, 237)
vgrid(272, 478, 478)
vgrid(668, 863, 863)

# ---------- data ----------
rd = to_days(rain_dates)
p.segment(x0=rd, y0=[0] * len(rd), x1=rd, y1=rain_mm, y_range_name="rain",
          line_color="#0000FF", line_width=1.4)

sdx = to_days(sd_dates)
p.varea(x=sdx, y1=[0] * len(sdx), y2=sd_m3, y_range_name="sd", fill_color="#0099FF")
sub_x = to_days(subdrain_dates) + [X_END]
p.step(x=sub_x, y=subdrain_count + [subdrain_count[-1]], mode="after", y_range_name="pits",
       line_color="#FF3300", line_width=2.5, line_dash="8 6")
p.line(x=to_days(pit_dates), y=pit_count, y_range_name="pits", line_color="#FF3300", line_width=2.5)

tpx = to_days(tp_dates)
tp_ts = [pd.Timestamp(d) for d in tp_dates]
wp = [tp_wellpoint_monthly[(t.year - 2017) * 12 + t.month - 4] for t in tp_ts]
tp_top = [a + b for a, b in zip(tp_drain, wp)]
p.varea(x=tpx, y1=[0] * len(tpx), y2=tp_drain, y_range_name="tp", fill_color="#00B050")
p.varea(x=tpx, y1=tp_drain, y2=tp_top, y_range_name="tp", fill_color="#CC3300")
tr_base = [tp_top[tp_dates.index(d)] for d in truck_dates]
p.vbar(x=to_days(truck_dates), bottom=tr_base, top=[b + t for b, t in zip(tr_base, truck_m3)],
       width=1.6, y_range_name="tp", fill_color="black", line_color=None)


# ---------- monthly tables ----------
def table_row(vals, y_top, y_bot, line_y):
    p.quad(left=0, right=X_END, top=y_top, bottom=y_bot, fill_color="white", line_color=None)
    xs = [d for d in month_days[1:] if d < X_END]
    p.segment(x0=xs, y0=[y_top] * len(xs), x1=xs, y1=[y_bot] * len(xs),
              line_color="#a6a6a6", line_width=1.5)
    p.segment(x0=[0], y0=[line_y], x1=[X_END], y1=[line_y], line_color="#a6a6a6", line_width=1.5)
    cx = [(month_days[i] + min(month_days[i + 1], X_END)) / 2 for i in range(len(vals))]
    p.text(x=cx, y=[(y_top + y_bot) / 2 + 1] * len(vals), text=[str(v) for v in vals],
           text_font=value("Noto Sans"), text_font_size=value("12.5px"), text_color="#222244",
           text_align="center", text_baseline="middle")


table_row(rain_monthly_total, 55, 83, 83)
table_row(sd_monthly_avg, 478, 509, 478)
table_row(tp_monthly_avg, 639, 668, 668)

# plot boxes
for top, bot in [(55, 230), (272, 509), (639, 863)]:
    p.quad(left=0, right=X_END, top=top, bottom=bot, fill_color=None,
           line_color="#808080", line_width=2)

# legend of the 2.5m panel (inside the box)
p.quad(left=dx(955), right=dx(1774), top=685, bottom=727,
       fill_color="white", line_color="#a6a6a6", line_width=2)
p.scatter(x=[dx(1016), dx(1205), dx(1410)], y=[706] * 3, marker="square", size=14,
          fill_color=["#00B050", "#CC3300", "black"], line_color=None)
p.text(x=[dx(1027), dx(1216), dx(1421)], y=[705] * 3,
       text=["地下水ドレン", "ウェルポイント", "くみ上げ車両によるくみ上げ・移送"],
       text_font=value(FONT), text_font_size=value("19px"), text_color=TXT,
       text_align="left", text_baseline="middle")

# legend of the SD panel (between the panels)
p.quad(left=dx(1225), right=dx(1294), top=566, bottom=581, fill_color="#0099FF", line_color=None)
p.segment(x0=[dx(1534)], y0=[575], x1=[dx(1603)], y1=[575], line_color="#FF3300", line_width=4)
p.segment(x0=[dx(1225)], y0=[612], x1=[dx(1292)], y1=[612], line_color="#FF3300",
          line_width=2.5, line_dash="8 6")

# leader line of the 241 label
p.line(x=[dx(837), dx(850), dx(866)], y=[88, 88, 96], line_color=TXT, line_width=1)

# fiscal-year separators (dashed, across all panels)
p.segment(x0=fy_days, y0=[83] * len(fy_days), x1=fy_days, y1=[870] * len(fy_days),
          line_color="#595959", line_width=3, line_dash="9 6")


# ---------- texts / arrows ----------
def label(x, y, text, size, color="black", bold=False, align="center", bg=None, angle=0.0):
    kw = dict(x=x, y=y, text=text, text_font=FONT, text_font_size=size, text_color=color,
              text_align=align, text_baseline="middle", angle=angle,
              text_font_style="bold" if bold else "normal")
    if bg:
        kw["background_fill_color"] = bg
    p.add_layout(Label(**kw))


def fy_arrows(y):
    for i in range(6):
        p.add_layout(Arrow(start=NormalHead(size=16, fill_color="black", line_color="black"),
                           end=NormalHead(size=16, fill_color="black", line_color="black"),
                           x_start=fy_days[i], y_start=y, x_end=fy_days[i + 1], y_end=y,
                           line_color="black", line_width=3))


# rainfall panel
for t, (px, py) in zip(rain_peak_labels, rain_peak_pos):
    label(dx(px), py, t, "23px", color=TXT)
for (px, py), a in zip(fy_lab_top, fy_rain_avg):
    label(dx(px), py, "年度平均：" + a, "24px", bold=True, bg="white")
fy_arrows(126)
label(dx(115), 38, "合計", "20px", bold=True, align="left")
label(dx(36), 140, "降水量（mm/日）", "20px", color=TXT, angle=math.pi / 2)

# SD panel
label(dx(707), 283, "全サブドレンピット数：42基（~2018.12.25),45基（2018.12.26~2020.10.8）,46基（2020.10.9~）",
      "19px", color="#FF3300", align="left")
for px, a in zip(fy_lab_mid, fy_sd_avg):
    label(dx(px), 413, "年度平均：" + a, "24px", bold=True)
fy_arrows(433)
label(dx(115), 463, "平均：", "21px", bold=True, align="left")
label(dx(22), 392, "SDくみ上げ量(m³/日)", "20px", color=TXT, angle=math.pi / 2)
label(dx(1887), 378, "SD稼働台数（基）", "20px", color=TXT, angle=math.pi / 2)
label(dx(658), 590, "1-4号機サブドレンくみ上げ量", "23px", color=TXT, align="left")
label(dx(1302), 573, "1-4号SDくみ上げ量", "19px", color=TXT, align="left")
label(dx(1611), 573, "稼働サブドレンピット数", "19px", color=TXT, align="left")
label(dx(1302), 610, "サブドレン基数", "19px", color=TXT, align="left")

# 2.5m panel
label(dx(334), 692, tp_peak_labels[0], "22px")
label(dx(893), 740, tp_peak_labels[1], "22px")
for px, a in zip(fy_lab_bot, fy_tp_avg):
    label(dx(px), 795, "年度平均：" + a, "24px", bold=True)
fy_arrows(820)
label(dx(112), 615, "平均：", "21px", bold=True, align="left")
label(dx(20), 752, "2.5m盤くみ上げ量(m³/日)", "20px", color=TXT, angle=math.pi / 2)
label(dx(960), 932, "T.P.＋2.5m盤くみ上げ量（ウェルポイント・地下水ドレン・くみ上げ車両）", "23px", color=TXT)
label(dx(1624), 934, "データ：2023/4/30", "18px", color=TXT, align="left")

open("out.html", "w").write(file_html(p, INLINE))
